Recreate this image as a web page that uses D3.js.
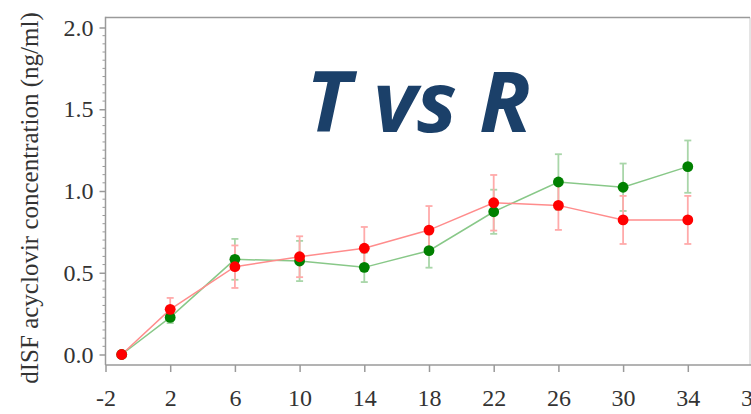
<!DOCTYPE html>
<html>
<head>
<meta charset="utf-8">
<script src="https://cdn.jsdelivr.net/npm/d3@7"></script>
<style>
  html, body { margin: 0; padding: 0; background: #fff; }
  svg { display: block; }
  .serif-text { font-family: "Liberation Serif", "Times New Roman", Times, "DejaVu Serif", serif; }
</style>
</head>
<body>
<svg id="chart" width="751" height="414"></svg>
<script>
// Sampling times (h) and mean dISF acyclovir concentrations (ng/ml) with SE
const times = [-1, 2, 6, 10, 14, 18, 22, 26, 30, 34];
const testMean = [0, 0.227, 0.582, 0.572, 0.533, 0.635, 0.873, 1.055, 1.023, 1.149];
const testErr = [0, 0.035, 0.125, 0.123, 0.09, 0.104, 0.135, 0.17, 0.145, 0.16];
const refMean = [0, 0.276, 0.537, 0.598, 0.65, 0.761, 0.928, 0.912, 0.823, 0.823];
const refErr = [0, 0.07, 0.13, 0.125, 0.13, 0.147, 0.17, 0.15, 0.147, 0.147];
const xTicks = [-2, 2, 6, 10, 14, 18, 22, 26, 30, 34, 38];
const yTicks = [0, 0.5, 1.0, 1.5, 2.0];
const titleText = "T vs R";
const yLabel = "dISF acyclovir concentration (ng/ml)";

const svg = d3.select("#chart");
const W = 751, H = 414;

const x = d3.scaleLinear().domain([-2, 38]).range([105.5, 752.5]);
const y = d3.scaleLinear().domain([0, 2]).range([354.5, 27.5]);

const frameTop = 17.5, axisBottom = 365, axisLeft = 105.5;
const axisColor = "#9a9a9a";
const textColor = "#333";
const serifFamily = '"Liberation Serif", "Times New Roman", Times, "DejaVu Serif", serif';

// frame: left axis, bottom axis, top and right borders
const frame = svg.append("g").attr("stroke", axisColor).attr("fill", "none");
frame.append("line").attr("x1", axisLeft).attr("x2", axisLeft).attr("y1", frameTop - 0.75).attr("y2", axisBottom).attr("stroke-width", 1.5);
frame.append("line").attr("x1", axisLeft).attr("x2", 750).attr("y1", frameTop).attr("y2", frameTop).attr("stroke-width", 1.5);
frame.append("line").attr("x1", 750).attr("x2", 750).attr("y1", frameTop).attr("y2", axisBottom).attr("stroke-width", 1).attr("stroke-opacity", 0.5);
frame.append("line").attr("x1", axisLeft).attr("x2", W).attr("y1", axisBottom).attr("y2", axisBottom).attr("stroke-width", 1.5);

// minor y ticks
const minor = d3.range(0, 2.0001, 0.05).filter(v => Math.abs(v * 2 - Math.round(v * 2)) > 1e-6);
svg.append("g").selectAll("line").data(minor).join("line")
  .attr("x1", axisLeft - 3).attr("x2", axisLeft)
  .attr("y1", d => y(d)).attr("y2", d => y(d))
  .attr("stroke", axisColor).attr("stroke-width", 1);

// y axis
const yAxis = svg.append("g").attr("transform", `translate(${axisLeft},0)`)
  .call(d3.axisLeft(y).tickValues(yTicks).tickFormat(d3.format(".1f")).tickSize(6).tickPadding(6));
yAxis.attr("font-family", null).attr("font-size", null);
yAxis.select(".domain").remove();
yAxis.selectAll(".tick line").attr("stroke", axisColor).attr("stroke-width", 1.5);
yAxis.selectAll(".tick text").attr("class", "serif-text").attr("fill", textColor)
  .attr("font-family", serifFamily).attr("font-size", 24);

// x axis
const xAxis = svg.append("g").attr("transform", `translate(0,${axisBottom})`)
  .call(d3.axisBottom(x).tickValues(xTicks).tickFormat(d => String(d)).tickSize(7).tickPadding(17));
xAxis.attr("font-family", null).attr("font-size", null);
xAxis.select(".domain").remove();
xAxis.selectAll(".tick line").attr("stroke", axisColor).attr("stroke-width", 1.5);
xAxis.selectAll(".tick text").attr("class", "serif-text").attr("fill", textColor)
  .attr("font-family", serifFamily).attr("font-size", 24);

// y axis title
svg.append("text")
  .attr("class", "serif-text")
  .attr("transform", `translate(38,198) rotate(-90)`)
  .attr("text-anchor", "middle")
  .attr("fill", textColor)
  .attr("font-family", serifFamily).attr("font-size", 25)
  .text(yLabel);

// series
const series = [
  { mean: testMean, err: testErr, dot: "#008000", line: "#88c888", bar: "#a9d6a9" },
  { mean: refMean, err: refErr, dot: "#ff0000", line: "#ff8c8c", bar: "#ffaaaa" }
];
series.forEach(s => { s.pts = times.map((t, i) => ({ t, v: s.mean[i], e: s.err[i] })); });

const lineGen = d3.line().x(d => x(d.t)).y(d => y(d.v));

// error bars underneath, then lines, then markers
const barsLayer = svg.append("g");
const linesLayer = svg.append("g");
const dotsLayer = svg.append("g");

series.forEach(s => {
  const eb = barsLayer.append("g").attr("stroke", s.bar).attr("stroke-width", 1.8);
  s.pts.filter(p => p.e > 0).forEach(p => {
    eb.append("line").attr("x1", x(p.t)).attr("x2", x(p.t)).attr("y1", y(p.v - p.e)).attr("y2", y(p.v + p.e));
    eb.append("line").attr("x1", x(p.t) - 3.5).attr("x2", x(p.t) + 3.5).attr("y1", y(p.v - p.e)).attr("y2", y(p.v - p.e));
    eb.append("line").attr("x1", x(p.t) - 3.5).attr("x2", x(p.t) + 3.5).attr("y1", y(p.v + p.e)).attr("y2", y(p.v + p.e));
  });
  linesLayer.append("path").datum(s.pts).attr("d", lineGen)
    .attr("fill", "none").attr("stroke", s.line).attr("stroke-width", 1.5);
  dotsLayer.append("g").selectAll("circle").data(s.pts).join("circle")
    .attr("cx", d => x(d.t)).attr("cy", d => y(d.v)).attr("r", 5.4)
    .attr("fill", s.dot);
});

// title
svg.append("text")
  .attr("x", 418.5).attr("y", 131.5)
  .attr("text-anchor", "middle")
  .attr("fill", "#1b4069")
  .attr("font-family", "'Open Sans', sans-serif")
  .attr("font-weight", 700).attr("font-style", "italic")
  .attr("font-size", 85)
  .text(titleText);
</script>
</body>
</html>
